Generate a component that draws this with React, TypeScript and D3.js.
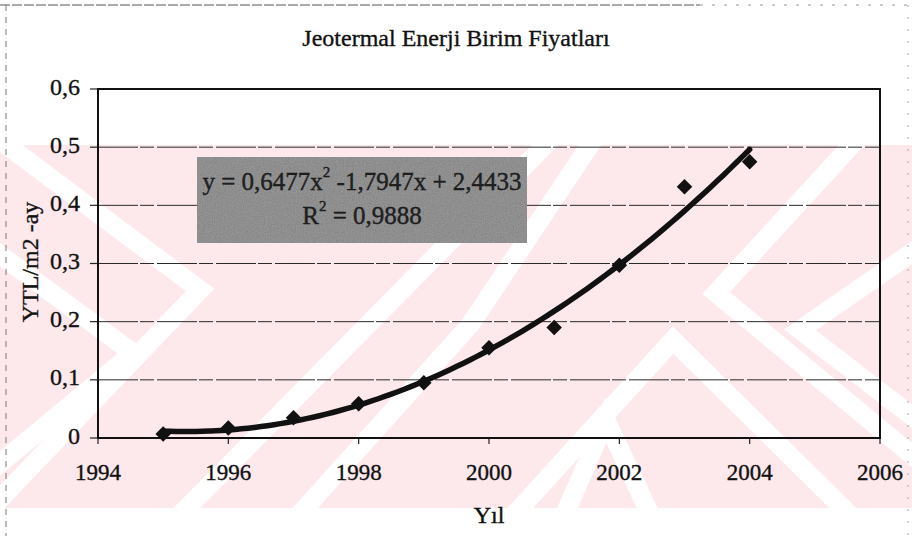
import React from "react";
import * as d3 from "d3";

const years = [1995, 1996, 1997, 1998, 1999, 2000, 2001, 2002, 2003, 2004];
const prices = [0.007, 0.017, 0.035, 0.059, 0.095, 0.155, 0.19, 0.297, 0.432, 0.475];
const xTicks = [1994, 1996, 1998, 2000, 2002, 2004, 2006];
const yTicks = [0, 0.1, 0.2, 0.3, 0.4, 0.5, 0.6];
const title = "Jeotermal Enerji Birim Fiyatları";
const xTitle = "Yıl";
const yTitle = "YTL/m2 -ay";
const eqMain = "y = 0,6477x";
const eqRest = " -1,7947x + 2,4433";
const r2Rest = " = 0,9888";

const W = 912;
const H = 536;
const FONT = "'Liberation Serif', 'Times New Roman', serif";

// least-squares quadratic fit (Excel polynomial trendline, order 2)
function fitQuadratic(xs: number[], ys: number[]) {
  const n = xs.length;
  const s = [0, 0, 0, 0, 0];
  const t = [0, 0, 0];
  for (let i = 0; i < n; i++) {
    const x = xs[i];
    for (let k = 0; k < 5; k++) s[k] += Math.pow(x, k);
    for (let k = 0; k < 3; k++) t[k] += ys[i] * Math.pow(x, k);
  }
  const A = [
    [s[0], s[1], s[2], t[0]],
    [s[1], s[2], s[3], t[1]],
    [s[2], s[3], s[4], t[2]],
  ];
  for (let i = 0; i < 3; i++) {
    for (let j = i + 1; j < 3; j++) {
      const f = A[j][i] / A[i][i];
      for (let k = i; k < 4; k++) A[j][k] -= f * A[i][k];
    }
  }
  const c = [0, 0, 0];
  for (let i = 2; i >= 0; i--) {
    let v = A[i][3];
    for (let k = i + 1; k < 3; k++) v -= A[i][k] * c[k];
    c[i] = v / A[i][i];
  }
  return (x: number) => c[0] + c[1] * x + c[2] * x * x;
}

// decorative background watermark stripes (white on pink)
const stripes: [number, number][][] = [
  [[-20, 125], [200, 290], [-20, 520]],
  [[-20, 240], [133, 353], [-20, 480]],
  [[170, 525], [565, 125]],
  [[290, 525], [470, 325], [600, 130]],
  [[505, 525], [673, 340], [860, 525]],
  [[560, 525], [606, 420], [655, 525]],
  [[870, 125], [716, 293], [930, 470]],
  [[930, 240], [800, 330], [930, 430]],
];

export default function App() {
  const left = 98, right = 880, top = 89, bottom = 438;
  const x = d3.scaleLinear().domain([1994, 2006]).range([left, right]);
  const y = d3.scaleLinear().domain([0, 0.6]).range([bottom, top]);

  const xs = years.map((v) => v - 1995);
  const f = fitQuadratic(xs, prices);
  const trend = d3.range(0, 9.001, 0.1).map((t) => [1995 + t, f(t)] as [number, number]);
  const line = d3
    .line<[number, number]>()
    .x((d) => x(d[0]))
    .y((d) => y(d[1]))
    .curve(d3.curveBasis);

  const diamond = d3.symbol().type(d3.symbolSquare).size(120)() as string;

  const bandTop = 145, bandBot = 508;
  const txt = { fontFamily: FONT, fill: "#111", stroke: "#111", strokeWidth: 0.35 };

  return (
    <svg width={W} height={H} style={{ display: "block", position: "absolute", left: 0, top: 0 }}>
      <defs>
        <clipPath id="band">
          <rect x={0} y={bandTop} width={W} height={bandBot - bandTop} />
        </clipPath>
        <filter id="grain" x="0" y="0" width="100%" height="100%">
          <feTurbulence type="fractalNoise" baseFrequency="0.9" numOctaves="2" seed="3" result="n" />
          <feColorMatrix type="saturate" values="0" in="n" result="g" />
          <feComponentTransfer in="g" result="g2">
            <feFuncA type="linear" slope="0" intercept="0.5" />
          </feComponentTransfer>
          <feComposite in="g2" in2="SourceGraphic" operator="in" result="c" />
          <feBlend in="SourceGraphic" in2="c" mode="multiply" />
        </filter>
      </defs>
      <rect width={W} height={H} fill="#ffffff" />
      {/* watermark */}
      <g clipPath="url(#band)">
        <rect x={0} y={bandTop} width={W} height={bandBot - bandTop} fill="#fde8ec" />
        {stripes.map((pts, i) => (
          <polyline
            key={"s" + i}
            points={pts.map((p) => p.join(",")).join(" ")}
            fill="none"
            stroke="#ffffff"
            strokeWidth={19}
            strokeLinejoin="miter"
          />
        ))}
      </g>
      {/* scanned page border remnants */}
      <line x1={0} x2={700} y1={5} y2={5} stroke="#555" strokeWidth={1} strokeDasharray="10 2" />
      <line x1={700} x2={912} y1={5} y2={5} stroke="#999" strokeWidth={1} strokeDasharray="3 9" />
      <line x1={6} x2={6} y1={5} y2={536} stroke="#777" strokeWidth={1} strokeDasharray="6 6" />
      <line x1={908} x2={908} y1={5} y2={536} stroke="#aaa" strokeWidth={1} strokeDasharray="2 10" />

      {/* title */}
      <text x={456} y={40} textAnchor="middle" dominantBaseline="middle" fontSize={24} {...txt}>
        {title}
      </text>

      {/* gridlines */}
      {yTicks.slice(1, -1).map((t) => (
        <line key={t} x1={left} x2={right} y1={y(t)} y2={y(t)} stroke="#2a2a2a" strokeWidth={1} strokeDasharray="40 2 14 3" />
      ))}
      {/* y ticks and labels */}
      {yTicks.map((t) => (
        <g key={"yt" + t}>
          <line x1={left - 8} x2={left} y1={y(t)} y2={y(t)} stroke="#222" strokeWidth={1.2} />
          <text x={80} y={y(t)} textAnchor="end" dominantBaseline="middle" fontSize={24} {...txt}>
            {String(t).replace(".", ",")}
          </text>
        </g>
      ))}
      {/* x ticks and labels */}
      {xTicks.map((t) => (
        <g key={"xt" + t}>
          <line x1={x(t)} x2={x(t)} y1={bottom} y2={bottom + 6} stroke="#222" strokeWidth={1.2} />
          <text x={x(t)} y={475} textAnchor="middle" dominantBaseline="middle" fontSize={23} {...txt}>
            {t}
          </text>
        </g>
      ))}
      {/* plot frame */}
      <rect x={left} y={top} width={right - left} height={bottom - top} fill="none" stroke="#111" strokeWidth={2} />

      {/* axis titles */}
      <text x={489} y={517} textAnchor="middle" dominantBaseline="middle" fontSize={24} {...txt}>
        {xTitle}
      </text>
      <text
        transform={`translate(32,262) rotate(-90)`}
        textAnchor="middle"
        dominantBaseline="middle"
        fontSize={24}
        {...txt}
      >
        {yTitle}
      </text>

      {/* equation box */}
      <g>
        <rect x={197} y={157} width={330} height={86} fill="#a2a2a2" filter="url(#grain)" />
        <text x={362} y={184} textAnchor="middle" dominantBaseline="middle" fontSize={25} {...txt} fill="#222">
          {eqMain}
          <tspan fontSize={15} dy={-10}>2</tspan>
          <tspan dy={10}>{eqRest}</tspan>
        </text>
        <text x={362} y={218} textAnchor="middle" dominantBaseline="middle" fontSize={25} {...txt} fill="#222">
          R<tspan fontSize={15} dy={-10}>2</tspan>
          <tspan dy={10}>{r2Rest}</tspan>
        </text>
      </g>

      {/* trendline */}
      <path d={line(trend) || ""} fill="none" stroke="#111" strokeWidth={5.5} strokeLinecap="round" />
      {/* markers */}
      {years.map((yr, i) => (
        <path
          key={yr}
          d={diamond}
          transform={`translate(${x(yr)},${y(prices[i])}) rotate(45)`}
          fill="#111"
        />
      ))}
    </svg>
  );
}
